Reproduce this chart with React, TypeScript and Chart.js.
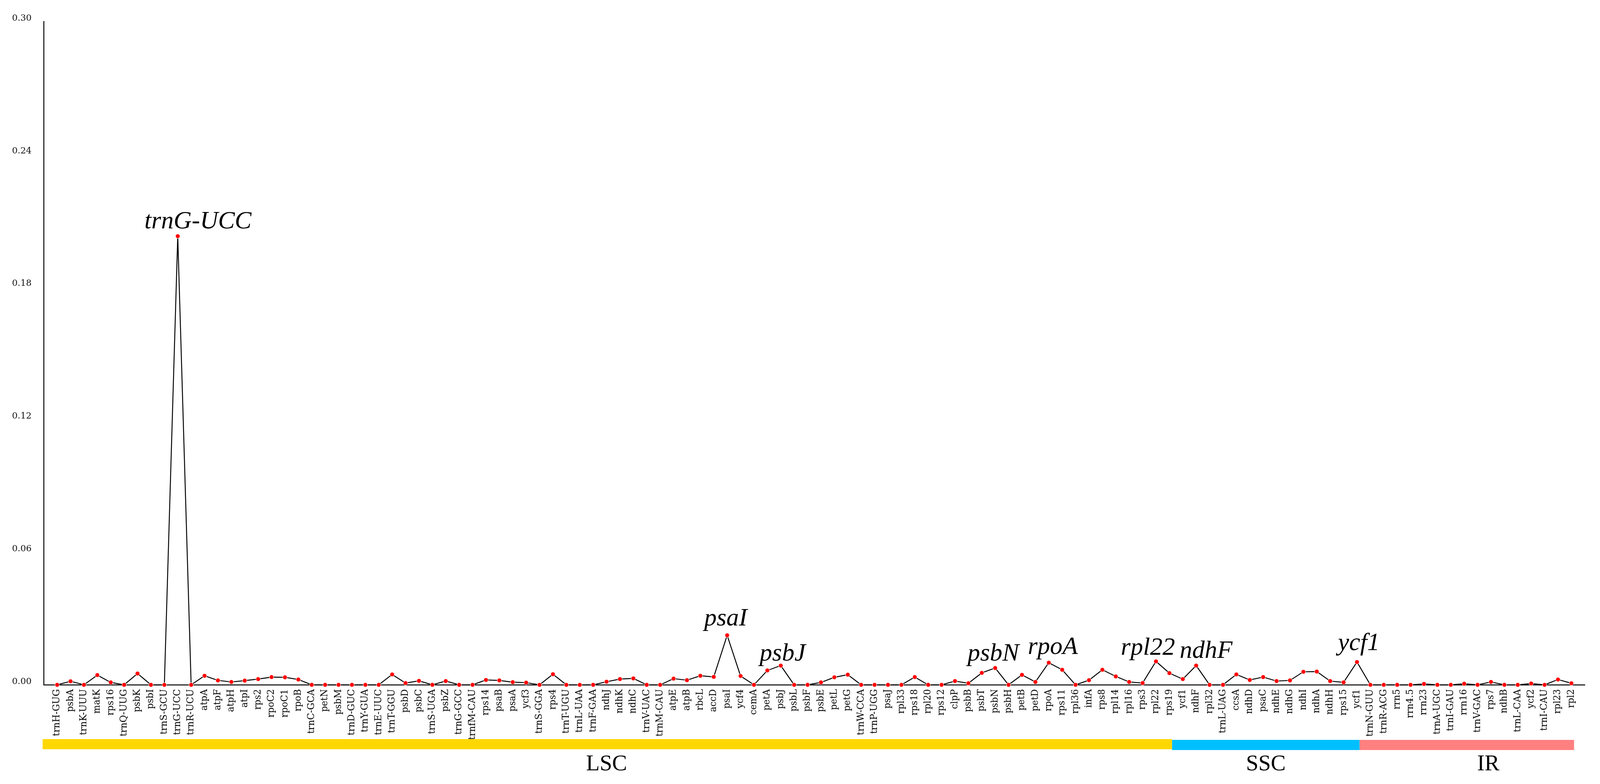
import { useEffect, useRef } from 'react';
import { Chart, registerables } from 'chart.js';

Chart.register(...registerables);

const GENES = [
  'trnH-GUG', 'psbA', 'trnK-UUU', 'matK', 'rps16', 'trnQ-UUG', 'psbK', 'psbI', 'trnS-GCU', 'trnG-UCC',
  'trnR-UCU', 'atpA', 'atpF', 'atpH', 'atpI', 'rps2', 'rpoC2', 'rpoC1', 'rpoB', 'trnC-GCA',
  'petN', 'psbM', 'trnD-GUC', 'trnY-GUA', 'trnE-UUC', 'trnT-GGU', 'psbD', 'psbC', 'trnS-UGA', 'psbZ',
  'trnG-GCC', 'trnfM-CAU', 'rps14', 'psaB', 'psaA', 'ycf3', 'trnS-GGA', 'rps4', 'trnT-UGU', 'trnL-UAA',
  'trnF-GAA', 'ndhJ', 'ndhK', 'ndhC', 'trnV-UAC', 'trnM-CAU', 'atpE', 'atpB', 'rbcL', 'accD',
  'psaI', 'ycf4', 'cemA', 'petA', 'psbJ', 'psbL', 'psbF', 'psbE', 'petL', 'petG',
  'trnW-CCA', 'trnP-UGG', 'psaJ', 'rpl33', 'rps18', 'rpl20', 'rps12', 'clpP', 'psbB', 'psbT',
  'psbN', 'psbH', 'petB', 'petD', 'rpoA', 'rps11', 'rpl36', 'infA', 'rps8', 'rpl14',
  'rpl16', 'rps3', 'rpl22', 'rps19', 'ycf1', 'ndhF', 'rpl32', 'trnL-UAG', 'ccsA', 'ndhD',
  'psaC', 'ndhE', 'ndhG', 'ndhI', 'ndhA', 'ndhH', 'rps15', 'ycf1', 'trnN-GUU', 'trnR-ACG',
  'rrn5', 'rrn4.5', 'rrn23', 'trnA-UGC', 'trnI-GAU', 'rrn16', 'trnV-GAC', 'rps7', 'ndhB', 'trnL-CAA',
  'ycf2', 'trnI-CAU', 'rpl23', 'rpl2',
];

const PI_VALUES = [
  0, 0.0016, 0, 0.0044, 0.0011, 0, 0.0051, 0, 0, 0.2029,
  0, 0.0041, 0.0020, 0.0013, 0.0019, 0.0026, 0.0035, 0.0034, 0.0024, 0,
  0, 0, 0, 0, 0, 0.0047, 0.0008, 0.0018, 0, 0.0017,
  0, 0, 0.0022, 0.0020, 0.0012, 0.0010, 0, 0.0048, 0, 0,
  0, 0.0014, 0.0026, 0.0029, 0, 0, 0.0028, 0.0021, 0.0041, 0.0036,
  0.0224, 0.0040, 0, 0.0065, 0.0087, 0, 0, 0.0011, 0.0034, 0.0046,
  0, 0, 0, 0, 0.0035, 0, 0, 0.0017, 0.0007, 0.0054,
  0.0076, 0, 0.0045, 0.0013, 0.0100, 0.0068, 0, 0.0021, 0.0068, 0.0038,
  0.0013, 0.0008, 0.0106, 0.0053, 0.0026, 0.0087, 0, 0, 0.0047, 0.0022,
  0.0035, 0.0017, 0.0020, 0.0059, 0.0060, 0.0017, 0.0011, 0.0103, 0, 0,
  0, 0, 0.0004, 0, 0, 0.0005, 0, 0.0013, 0, 0,
  0.0006, 0, 0.0024, 0.0007,
];

// 1-based positions of the highlighted genes
const ANNOTATED_POSITIONS = [10, 51, 55, 71, 75, 83, 86, 98];

const REGION_NAMES = ['LSC', 'SSC', 'IR'];
const REGION_BOUNDS = [0, 84.2, 98.2, 114.2];
const REGION_LABEL_AT = [42, 91.2, 107.8];
const REGION_COLORS = ['#FFD700', '#00BFFF', '#FF8080'];

const Y_TICKS = [0, 0.06, 0.12, 0.18, 0.24, 0.3];

// layout tweaks for annotation text (reference pixels: dx, lift above point)
const ANNOTATION_OFFSETS = [
  [55, 20], [-4, 25], [5, 13], [-5, 19], [11, 22], [-22, 17], [27, 20], [5, 31],
];

const REF_W = 4353;
const REF_H = 2008;

function makeOverlay(sx: number, sy: number, sm: number) {
  return {
    id: 'overlay',
    afterDatasetsDraw(chart: any) {
      const ctx = chart.ctx;
      const xs = chart.scales.x;
      const ys = chart.scales.y;
      const area = chart.chartArea;
      ctx.save();
      ctx.fillStyle = '#000';
      ctx.font = `italic ${66 * sm}px "Liberation Serif"`;
      ctx.textAlign = 'center';
      ctx.textBaseline = 'alphabetic';
      ANNOTATED_POSITIONS.forEach((pos, k) => {
        const px = xs.getPixelForValue(pos);
        const py = ys.getPixelForValue(PI_VALUES[pos - 1]);
        const [dx, dy] = ANNOTATION_OFFSETS[k];
        ctx.fillText(GENES[pos - 1], px + dx * sx, py - dy * sy);
      });

      REGION_NAMES.forEach((name, k) => {
        const x0 = k === 0 ? area.left - 3 * sx : xs.getPixelForValue(REGION_BOUNDS[k]);
        const x1 = xs.getPixelForValue(REGION_BOUNDS[k + 1]);
        const yOff = (k === 0 ? 139 : 141) * sy;
        ctx.fillStyle = REGION_COLORS[k];
        ctx.fillRect(x0, area.bottom + yOff, x1 - x0, 26 * sy);
        ctx.fillStyle = '#000';
        ctx.font = `${59 * sm}px "Liberation Serif"`;
        ctx.textAlign = 'center';
        ctx.textBaseline = 'alphabetic';
        ctx.fillText(name, xs.getPixelForValue(REGION_LABEL_AT[k]), area.bottom + 219 * sy);
      });
      ctx.restore();
    },
  };
}

export default function App() {
  const wrapRef = useRef<HTMLDivElement | null>(null);
  const canvasRef = useRef<HTMLCanvasElement | null>(null);

  useEffect(() => {
    const canvas = canvasRef.current;
    const wrap = wrapRef.current;
    if (!canvas || !wrap) return;
    const W = wrap.clientWidth || window.innerWidth;
    const H = wrap.clientHeight || window.innerHeight;
    const sx = W / REF_W;
    const sy = H / REF_H;
    const s = Math.min(sx, sy);
    const sm = Math.sqrt(sx * sy);

    const labels = ['', ...GENES, ''];
    const data = [null, ...PI_VALUES, null];
    const chart = new Chart(canvas, {
      type: 'line',
      data: {
        labels,
        datasets: [
          {
            data,
            borderColor: '#000',
            borderWidth: 2.5 * sm,
            pointBackgroundColor: '#FF0000',
            pointBorderColor: '#ffffff',
            pointBorderWidth: 1,
            pointRadius: 6 * s,
            tension: 0,
            clip: false,
            spanGaps: false,
          } as any,
        ],
      },
      options: {
        animation: false,
        responsive: true,
        maintainAspectRatio: false,
        layout: { padding: { top: 55 * sy, right: 37 * sx, left: 0, bottom: 0 } },
        plugins: {
          legend: { display: false },
          tooltip: { enabled: false },
        },
        scales: {
          x: {
            type: 'category',
            offset: false,
            grid: { display: false, drawTicks: false },
            border: { display: true, color: '#000', width: 2.5 * sm },
            ticks: {
              autoSkip: false,
              maxRotation: 90,
              minRotation: 90,
              padding: 11 * sy,
              color: '#000',
              font: { family: 'DejaVu Serif', size: 24 * sm },
            },
            afterFit: (scale: any) => {
              scale.height = 254 * sy;
            },
          },
          y: {
            type: 'linear',
            min: 0,
            max: 0.3,
            grid: { display: false, drawTicks: false },
            border: { display: true, color: '#000', width: 2.5 * sm },
            afterBuildTicks: (scale: any) => {
              scale.ticks = Y_TICKS.map((v) => ({ value: v }));
            },
            ticks: {
              padding: 33 * sx,
              labelOffset: -8 * sy,
              color: '#111',
              font: { family: 'DejaVu Serif', size: 24 * sx },
              callback: (v: any) => Number(v).toFixed(2),
            },
            afterFit: (scale: any) => {
              scale.width = 119 * sx;
            },
          },
        },
      },
      plugins: [makeOverlay(sx, sy, sm)],
    });
    return () => chart.destroy();
  }, []);

  return (
    <div
      ref={wrapRef}
      style={{
        position: 'fixed',
        left: 0,
        top: 0,
        width: '100vw',
        height: '100vh',
        background: '#fff',
      }}
    >
      <canvas ref={canvasRef} />
    </div>
  );
}
